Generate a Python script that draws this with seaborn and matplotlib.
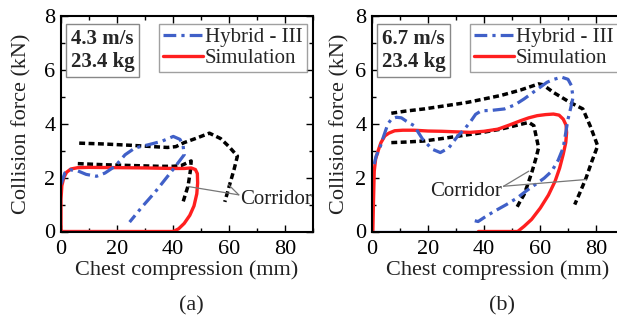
import numpy as np
import pandas as pd
import matplotlib
matplotlib.use("Agg")
import matplotlib.pyplot as plt
from matplotlib.ticker import MultipleLocator
import seaborn as sns

# ---- panel (a): 4.3 m/s ----
sim_a_x = [0, 0, 0.3, 1, 2, 3.5, 6, 10, 20, 30, 40, 44, 46.5, 48, 48.7, 48.8, 48.5, 47.5, 46, 44, 42, 40.5, 40, 30, 20, 0]
sim_a_y = [0, 1.2, 1.7, 2.0, 2.2, 2.32, 2.37, 2.38, 2.37, 2.36, 2.34, 2.34, 2.36, 2.3, 2.15, 1.8, 1.4, 0.95, 0.6, 0.3, 0.1, 0.02, 0, 0, 0, 0]

hyb_a_x = [0, 1.4, 3.2, 6, 9, 12.7, 15.7, 19.3, 22.9, 26.4, 31.2, 36, 40.1, 42.5, 43.6, 43.8, 44, 40, 33.5, 29, 24.5]
hyb_a_y = [1.75, 2.18, 2.29, 2.25, 2.12, 2.05, 2.17, 2.42, 2.85, 3.1, 3.22, 3.35, 3.53, 3.42, 3.2, 3.0, 2.85, 2.3, 1.45, 0.92, 0.35]
hyb_a_base_x = [0, 24.5]
hyb_a_base_y = [0, 0]

cor_a_up_x = [6.5, 15, 25, 33, 38, 41, 44, 48, 53, 57, 60, 63, 61.8, 60.4, 58.5]
cor_a_up_y = [3.28, 3.25, 3.2, 3.15, 3.12, 3.15, 3.3, 3.45, 3.65, 3.45, 3.15, 2.8, 2.3, 1.8, 1.1]
cor_a_lo_x = [6, 15, 25, 35, 40, 43, 46.5, 46.2, 45.4, 44.5, 43.6]
cor_a_lo_y = [2.52, 2.48, 2.45, 2.42, 2.42, 2.45, 2.62, 2.25, 1.7, 1.4, 1.1]

# ---- panel (b): 6.7 m/s ----
sim_b_x = [0.3, 0.5, 0.8, 1.3, 2.2, 3.2, 4.6, 6, 8.1, 11, 15, 20, 25, 30, 35, 40, 45, 49, 53, 56, 59, 62,
           64.8, 66.8, 68.3, 69.3, 69.5, 69.2, 68.3, 67, 65.4, 63, 60.1, 57, 54.3, 52.5, 52, 45, 38]
sim_b_y = [0, 1.0, 2.24, 2.7, 3.0, 3.3, 3.55, 3.65, 3.74, 3.76, 3.76, 3.73, 3.72, 3.7, 3.68, 3.72, 3.8, 3.95,
           4.11, 4.22, 4.3, 4.34, 4.36, 4.32, 4.17, 3.95, 3.67, 3.3, 2.87, 2.35, 1.87, 1.35, 0.87, 0.45, 0.19,
           0.04, 0, 0, 0]

hyb_b_x = [0.8, 1.5, 2.8, 4.2, 5.7, 7, 8.7, 10.5, 12.2, 15, 18, 21.4, 24.4, 27.4, 30.3, 33, 35, 37, 39, 43,
           47.3, 51, 54.3, 58, 62.5, 65, 67.7, 70, 71.2, 71.8, 71, 70, 68.3, 66.5, 64.2, 61.5, 58.4, 55, 51.9,
           48, 43.7, 40.5, 37.9, 36.7]
hyb_b_y = [2.5, 2.8, 3.1, 3.55, 4.0, 4.18, 4.24, 4.22, 4.1, 3.93, 3.44, 3.06, 2.93, 3.1, 3.5, 3.8, 4.05, 4.35,
           4.48, 4.5, 4.55, 4.7, 4.92, 5.2, 5.54, 5.65, 5.73, 5.65, 5.42, 4.98, 4.6, 4.17, 3.11, 2.65, 2.24,
           1.98, 1.75, 1.5, 1.25, 1.0, 0.75, 0.55, 0.37, 0.4]
hyb_b_base_x = [0, 38]
hyb_b_base_y = [0, 0]

cor_b_up_x = [6.9, 12, 18.6, 25, 31.5, 34.4, 40, 46, 53, 59.5, 61, 65, 70.6, 75.3, 78, 80.6, 78.5, 76.5, 74.5, 72.4]
cor_b_up_y = [4.39, 4.47, 4.55, 4.65, 4.75, 4.8, 4.92, 5.05, 5.25, 5.48, 5.45, 5.15, 4.8, 4.55, 3.9, 3.18, 2.6, 2.0, 1.5, 1.0]
cor_b_lo_x = [6.9, 12, 18.6, 25, 31.5, 38, 46, 52, 56, 57.8, 59.5, 58.5, 57.2, 55.8, 54.3, 52.8, 51.3]
cor_b_lo_y = [3.3, 3.32, 3.36, 3.45, 3.55, 3.65, 3.8, 3.95, 4.05, 3.93, 3.11, 2.7, 2.24, 1.8, 1.37, 1.1, 0.81]

panels = [
    dict(tag="(a)", info="4.3 m/s\n23.4 kg",
         sim=(sim_a_x, sim_a_y), hyb=(hyb_a_x, hyb_a_y), base=(hyb_a_base_x, hyb_a_base_y),
         cor=[(cor_a_up_x, cor_a_up_y), (cor_a_lo_x, cor_a_lo_y)],
         txt=(64, 1.2), txt_ha="left", src=(63.5, 1.36), tips=[(45.4, 1.67), (59.8, 1.74)],
         left=61, ylab_x=31),
    dict(tag="(b)", info="6.7 m/s\n23.4 kg",
         sim=(sim_b_x, sim_b_y), hyb=(hyb_b_x, hyb_b_y), base=(hyb_b_base_x, hyb_b_base_y),
         cor=[(cor_b_up_x, cor_b_up_y), (cor_b_lo_x, cor_b_lo_y)],
         txt=(46.5, 1.5), txt_ha="right", src=(47, 1.68), tips=[(56, 2.24), (76.5, 1.93)],
         left=372, ylab_x=349),
]

sns.set_theme(style="ticks")
plt.rcParams["font.family"] = ["Liberation Serif", "DejaVu Serif"]

W, H = 617, 320
fig = plt.figure(figsize=(W / 100, H / 100), dpi=100)

blue = "#4060c8"
red = "#ff1f1f"

for p in panels:
    ax = fig.add_axes([p["left"] / W, 1 - 231.5 / H, 252 / W, 215.5 / H])

    for cx, cy in p["cor"]:
        sns.lineplot(x=cx, y=cy, ax=ax, sort=False, estimator=None, color="black",
                     linewidth=2.5, linestyle=(0, (1.7, 1.0)))
    sns.lineplot(x=p["sim"][0], y=p["sim"][1], ax=ax, sort=False, estimator=None,
                 color=red, linewidth=2.4, label="Simulation")
    sns.lineplot(x=p["hyb"][0], y=p["hyb"][1], ax=ax, sort=False, estimator=None,
                 color=blue, linewidth=2.3, linestyle=(0, (4, 1.6, 1, 1.6)), label="Hybrid - III")
    sns.lineplot(x=p["base"][0], y=p["base"][1], ax=ax, sort=False, estimator=None,
                 color=blue, linewidth=1.6)

    ax.set_xlim(0, 90)
    ax.set_ylim(0, 8)
    ax.xaxis.set_minor_locator(MultipleLocator(10))
    ax.yaxis.set_major_locator(MultipleLocator(2))
    ax.yaxis.set_minor_locator(MultipleLocator(1))
    ax.set_xticks([0, 20, 40, 60, 80])
    ax.tick_params(which="both", direction="in", top=True, right=True, labelsize=16,
                   width=1, colors="black")
    ax.tick_params(axis="x", pad=6)
    ax.tick_params(axis="y", pad=4)
    ax.tick_params(which="major", length=5)
    ax.tick_params(which="minor", length=3)
    for s in ax.spines.values():
        s.set_linewidth(1.5)
        s.set_color("black")

    ax.set_xlabel("Chest compression (mm)", fontsize=16, labelpad=1, color="#222222")
    ax.set_ylabel("Collision force (kN)", fontsize=16, color="#222222")
    ax.yaxis.set_label_coords((p["ylab_x"] - p["left"]) / 252, 0.5)

    # legend: Hybrid first, then Simulation
    h, l = ax.get_legend_handles_labels()
    order = [l.index("Hybrid - III"), l.index("Simulation")]
    leg = ax.legend([h[i] for i in order], [l[i] for i in order], loc="upper right",
                    bbox_to_anchor=(0.975, 0.965), fontsize=15, frameon=True, fancybox=False,
                    handlelength=1.9, handletextpad=0.1, borderpad=0.2, labelspacing=0.05,
                    borderaxespad=0)
    leg.get_frame().set_edgecolor("#888888")
    leg.get_frame().set_linewidth(1.0)

    ax.text(0.04, 0.94, p["info"], transform=ax.transAxes, ha="left", va="top",
            fontsize=15, fontweight="bold", linespacing=1.2,
            bbox=dict(boxstyle="square,pad=0.22", fc="white", ec="#888888", lw=1.0))

    ax.text(p["txt"][0], p["txt"][1], "Corridor", fontsize=15, ha=p["txt_ha"], va="center",
            color="#222222")
    for tip in p["tips"]:
        ax.annotate("", xy=tip, xytext=p["src"],
                    arrowprops=dict(arrowstyle="-", color="#777777", lw=0.9, shrinkA=0, shrinkB=0))

    fig.text((p["left"] + 130) / W, 1 - 306 / H, p["tag"], fontsize=16, ha="center", va="center",
             color="#222222")

fig.savefig("out.png", dpi=100)
